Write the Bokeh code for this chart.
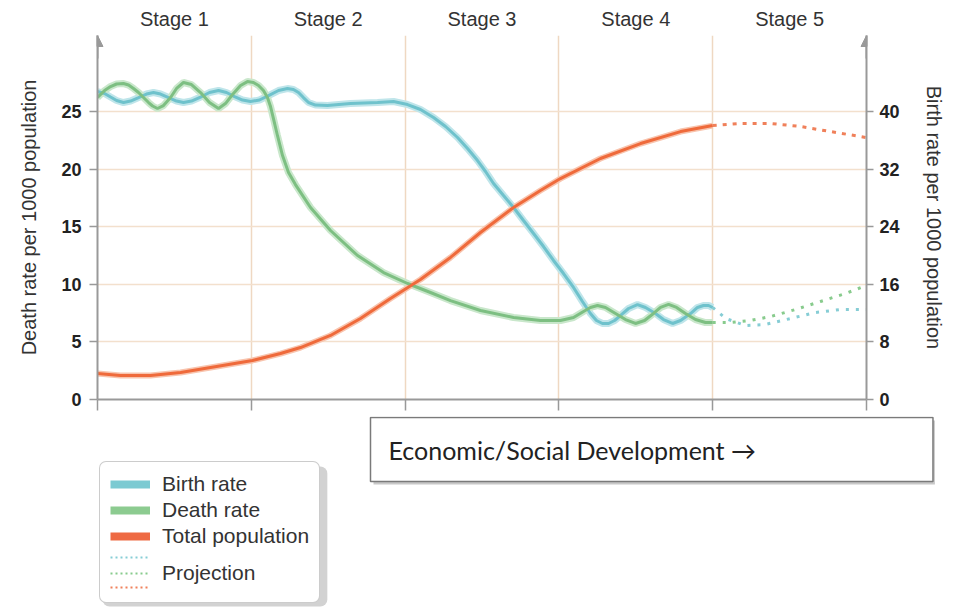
from bokeh.plotting import figure
from bokeh.layouts import column
from bokeh.models import (Range1d, LinearAxis, FixedTicker, Legend, LegendItem,
                          Label, Arrow, NormalHead)
from bokeh.embed import file_html
from bokeh.resources import INLINE

# ---------------- data ----------------
stage_positions = [0.5, 1.5, 2.5, 3.5, 4.5]
stage_labels = ["Stage 1", "Stage 2", "Stage 3", "Stage 4", "Stage 5"]
stage_bounds = [0, 1, 2, 3, 4, 5]
death_ticks = [0, 5, 10, 15, 20, 25]
birth_ticks = [0, 8, 16, 24, 32, 40]
legend_labels = ["Birth rate", "Death rate", "Total population", "Projection"]
dev_text = "Economic/Social Development \u2192"

# Birth rate per 1000 (right axis)
birth_x = [0.000, 0.046, 0.085, 0.124, 0.169, 0.215, 0.267, 0.319, 0.364, 0.410,
           0.462, 0.514, 0.559, 0.611, 0.670, 0.728, 0.787, 0.839, 0.891, 0.943,
           0.995, 1.053, 1.112, 1.177, 1.235, 1.274, 1.307, 1.339, 1.372, 1.417,
           1.495, 1.645, 1.821, 1.925, 2.016, 2.100, 2.185, 2.263, 2.341, 2.406,
           2.471, 2.523, 2.575, 2.640, 2.705, 2.770, 2.835, 2.900, 2.965, 3.030,
           3.095, 3.153, 3.205, 3.244, 3.283, 3.323, 3.362, 3.401, 3.453, 3.511,
           3.563, 3.628, 3.680, 3.739, 3.791, 3.856, 3.901, 3.940, 3.973, 4.000]
birth_rate = [42.78, 42.50, 42.01, 41.53, 41.25, 41.46, 41.94, 42.43, 42.64, 42.43,
              41.94, 41.46, 41.25, 41.46, 42.01, 42.64, 42.92, 42.64, 42.08, 41.60,
              41.39, 41.60, 42.22, 42.92, 43.19, 43.06, 42.64, 41.94, 41.25, 40.90,
              40.83, 41.11, 41.25, 41.39, 40.97, 40.28, 39.17, 37.92, 36.39, 34.86,
              33.19, 31.67, 30.00, 28.33, 26.67, 24.86, 23.06, 21.25, 19.31, 17.50,
              15.56, 13.61, 11.94, 10.97, 10.56, 10.56, 10.97, 11.67, 12.64, 13.19,
              12.78, 11.94, 11.11, 10.56, 10.97, 11.94, 12.78, 13.06, 13.06, 12.78]

# Death rate per 1000 (left axis)
death_x = [0.000, 0.046, 0.085, 0.124, 0.169, 0.202, 0.234, 0.267, 0.299, 0.332,
           0.358, 0.390, 0.429, 0.475, 0.514, 0.559, 0.611, 0.670, 0.728, 0.787,
           0.832, 0.878, 0.930, 0.975, 1.014, 1.047, 1.079, 1.105, 1.125, 1.144,
           1.170, 1.203, 1.242, 1.287, 1.385, 1.515, 1.691, 1.860, 2.016, 2.165,
           2.295, 2.490, 2.705, 2.880, 3.010, 3.095, 3.160, 3.205, 3.251, 3.303,
           3.368, 3.433, 3.498, 3.557, 3.615, 3.661, 3.713, 3.765, 3.823, 3.888,
           3.953, 4.000]
death_rate = [26.22, 26.82, 27.17, 27.39, 27.43, 27.30, 27.00, 26.65, 26.22, 25.78,
              25.48, 25.26, 25.52, 26.22, 27.00, 27.52, 27.34, 26.65, 25.78, 25.26,
              25.69, 26.48, 27.26, 27.60, 27.52, 27.26, 26.82, 26.22, 25.43, 24.39,
              22.92, 21.18, 19.70, 18.66, 16.67, 14.67, 12.50, 11.02, 10.07, 9.29,
              8.59, 7.73, 7.12, 6.86, 6.86, 7.12, 7.64, 7.99, 8.16, 7.99,
              7.47, 6.94, 6.60, 6.86, 7.47, 7.99, 8.25, 7.99, 7.47, 6.94,
              6.68, 6.68]

# Total population (drawn against the left scale)
pop_x = [0.000, 0.150, 0.345, 0.540, 0.735, 1.008, 1.190, 1.320, 1.515, 1.710,
         1.905, 2.100, 2.295, 2.490, 2.705, 2.880, 3.010, 3.270, 3.531, 3.791, 4.000]
total_population = [2.26, 2.08, 2.08, 2.34, 2.78, 3.39, 3.99, 4.51, 5.56, 7.03,
                    8.77, 10.42, 12.33, 14.50, 16.67, 18.14, 19.18, 20.92, 22.22, 23.26, 23.78]

# Projections (stage 5)
birth_proj_x = [4.000, 4.085, 4.213, 4.343, 4.506, 4.668, 4.831, 5.000]
birth_proj = [12.78, 11.25, 10.28, 10.42, 11.25, 12.08, 12.50, 12.50]
death_proj_x = [4.000, 4.117, 4.246, 4.376, 4.538, 4.701, 4.863, 5.000]
death_proj = [6.68, 6.68, 6.86, 7.20, 7.81, 8.51, 9.20, 9.90]
pop_proj_x = [4.000, 4.182, 4.376, 4.571, 4.766, 5.000]
pop_proj = [23.78, 23.96, 23.96, 23.70, 23.26, 22.74]

# ---------------- styling ----------------
FONT = "Liberation Sans"
AX = "#999999"
BLUE, BLUE_H = "#6fc2cc", "#bfe5ea"
GREEN, GREEN_H = "#7dbf82", "#c9e7cb"
ORANGE, ORANGE_H = "#ef6a3b", "#f8c4ae"
BLUE_D, GREEN_D, ORANGE_D = "#86cdd5", "#88cb8d", "#f0805a"
Y_TOP = 31.6
BIRTH_TOP = Y_TOP * 1.6
W = 950
H1 = 416
H2 = 607 - H1
NAN = float("nan")

p = figure(width=W, height=H1, output_backend="svg", toolbar_location=None,
           x_range=Range1d(0, 5), y_range=Range1d(0, Y_TOP),
           min_border_left=97, min_border_right=W - 866, min_border_top=35,
           min_border_bottom=H1 - 399)
p.extra_y_ranges = {"birth": Range1d(0, BIRTH_TOP)}
p.outline_line_color = None
p.background_fill_color = "white"
p.border_fill_color = "white"

# grid
p.xgrid.ticker = FixedTicker(ticks=stage_bounds[1:-1])
p.xgrid.grid_line_color = "#efd8c2"
p.xgrid.grid_line_width = 1.5
p.ygrid.ticker = FixedTicker(ticks=death_ticks[1:])
p.ygrid.grid_line_color = "#f3e0cd"
p.ygrid.grid_line_width = 1.5

# bottom axis
xa = p.xaxis[0]
xa.ticker = FixedTicker(ticks=stage_bounds)
xa.major_label_overrides = {b: "" for b in stage_bounds}
xa.major_label_text_font_size = "1px"
xa.major_label_standoff = 0
xa.major_tick_out = 11
xa.major_tick_in = 0
xa.minor_tick_line_color = None
xa.axis_line_color = AX
xa.axis_line_width = 2
xa.major_tick_line_color = AX
xa.major_tick_line_width = 1.5


def style_y(ax, label, standoff, tick_out, lab_standoff):
    ax.axis_label = label
    ax.axis_label_text_font = FONT
    ax.axis_label_text_font_size = "20px"
    ax.axis_label_text_font_style = "normal"
    ax.axis_label_text_color = "#333333"
    ax.axis_label_standoff = standoff
    ax.major_label_text_font = FONT
    ax.major_label_text_font_size = "18px"
    ax.major_label_text_font_style = "bold"
    ax.major_label_text_color = "#222222"
    ax.major_label_standoff = lab_standoff
    ax.major_tick_out = tick_out
    ax.major_tick_in = 0
    ax.minor_tick_line_color = None
    ax.axis_line_color = AX
    ax.axis_line_width = 2
    ax.major_tick_line_color = AX
    ax.major_tick_line_width = 1.5


ya = p.yaxis[0]
ya.ticker = FixedTicker(ticks=death_ticks)
style_y(ya, "Death rate per 1000 population", 18, 8, 8)

ra = LinearAxis(y_range_name="birth", ticker=FixedTicker(ticks=birth_ticks))
style_y(ra, "Birth rate per 1000 population", 20, 7, 6)
p.add_layout(ra, "right")

# stage labels on top
ta = LinearAxis(ticker=FixedTicker(ticks=stage_positions),
                major_label_overrides=dict(zip(stage_positions, stage_labels)))
ta.axis_line_color = None
ta.major_tick_line_color = None
ta.minor_tick_line_color = None
ta.major_tick_out = 0
ta.major_tick_in = 0
ta.major_label_standoff = 6
ta.major_label_text_font = FONT
ta.major_label_text_font_size = "20px"
ta.major_label_text_color = "#333333"
p.add_layout(ta, "above")

# axis arrows
for xa_pos in (stage_bounds[0], stage_bounds[-1]):
    p.add_layout(Arrow(end=NormalHead(size=11, fill_color=AX, line_color=AX),
                       x_start=xa_pos, y_start=Y_TOP - 2, x_end=xa_pos, y_end=Y_TOP,
                       line_color=AX, line_width=2))

# series (halo + core)
p.line(birth_x, birth_rate, y_range_name="birth", line_color=BLUE_H, line_width=7)
p.line(death_x, death_rate, line_color=GREEN_H, line_width=7)
p.line(pop_x, total_population, line_color=ORANGE_H, line_width=6)
p.line(birth_x, birth_rate, y_range_name="birth", line_color=BLUE, line_width=3)
p.line(death_x, death_rate, line_color=GREEN, line_width=3)
p.line(pop_x, total_population, line_color=ORANGE, line_width=3)

p.line(birth_proj_x, birth_proj, y_range_name="birth", line_color=BLUE_D,
       line_width=3, line_dash="3 7")
p.line(death_proj_x, death_proj, line_color=GREEN_D, line_width=3, line_dash="3 7")
p.line(pop_proj_x, pop_proj, line_color=ORANGE_D, line_width=3, line_dash="4 6")

# ---------------- lower panel: legend + development box ----------------
q = figure(width=W, height=H2, output_backend="svg", toolbar_location=None,
           x_range=Range1d(0, W), y_range=Range1d(0, H2), min_border=0,
           x_axis_type=None, y_axis_type=None)
q.outline_line_color = None
q.xgrid.visible = False
q.ygrid.visible = False
q.background_fill_color = "white"
q.border_fill_color = "white"
for fig in (p, q):
    if "frame_align" in fig.properties():
        fig.frame_align = False

HAS_RADIUS = "border_radius" in Label.properties()

# shadows (boxes only, no visible text)
leg_shadow = Label(x=102, y=1, x_units="screen", y_units="screen", text=" ",
                   text_font=FONT, text_font_size="21px", text_align="left",
                   text_baseline="bottom", background_fill_color="#d2d2d2",
                   padding=dict(left=0, right=219, top=117, bottom=0))
dev_shadow = Label(x=373, y=607 - 452, x_units="screen", y_units="screen", text=" ",
                   text_font="Lato", text_font_size="25px", text_align="left",
                   text_baseline="middle", background_fill_color="#c8c8c8",
                   padding=dict(left=0, right=555, top=17, bottom=17))
if HAS_RADIUS:
    leg_shadow.border_radius = 7
q.add_layout(leg_shadow)
q.add_layout(dev_shadow)

q.add_layout(Label(x=370, y=607 - 449, x_units="screen", y_units="screen",
                   text=dev_text, text_font="Lato", text_font_size="25px",
                   text_color="#222222", text_align="left", text_baseline="middle",
                   background_fill_color="white", border_line_color="#7a7a7a",
                   border_line_width=1.5,
                   padding=dict(left=18, right=177, top=17, bottom=17)))

# legend-only swatch renderers (no visible marks)
leg_b = q.line(x=[NAN], y=[NAN], line_color="#7ccad2", line_width=8)
leg_d = q.line(x=[NAN], y=[NAN], line_color="#8ccb90", line_width=8)
leg_p = q.line(x=[NAN], y=[NAN], line_color="#ee6a43", line_width=8)
leg_blank = q.line(x=[NAN], y=[NAN], line_alpha=0)
leg_bp = q.line(x=[NAN], y=[NAN], line_color=BLUE_D, line_width=2, line_dash="2 3")
leg_dp = q.line(x=[NAN], y=[NAN], line_color=GREEN_D, line_width=2, line_dash="2 3")
leg_pp = q.line(x=[NAN], y=[NAN], line_color=ORANGE_D, line_width=2, line_dash="2 3")

legend_a = Legend(items=[LegendItem(label=legend_labels[0], renderers=[leg_b]),
                         LegendItem(label=legend_labels[1], renderers=[leg_d]),
                         LegendItem(label=legend_labels[2], renderers=[leg_p]),
                         LegendItem(label=" ", renderers=[leg_blank]),
                         LegendItem(label=" ", renderers=[leg_blank])],
                  location=(99, 607 - 603), glyph_width=40, glyph_height=20,
                  label_height=20, spacing=2, padding=10, margin=0, label_standoff=12,
                  label_text_font=FONT, label_text_font_size="21px",
                  label_text_color="#333333", border_line_color="#9a9a9a",
                  border_line_width=1.5, background_fill_color="white",
                  background_fill_alpha=1.0)
if "border_radius" in Legend.properties():
    legend_a.border_radius = 7
q.add_layout(legend_a)

# projection swatches (blue and orange, no text)
legend_b1 = Legend(items=[LegendItem(label=" ", renderers=[leg_bp]),
                          LegendItem(label=" ", renderers=[leg_pp])],
                   location=(110, 607 - 592), glyph_width=40, glyph_height=10,
                   label_height=10, spacing=20, padding=0, margin=0, label_standoff=0,
                   label_text_font_size="1px", border_line_color=None,
                   background_fill_alpha=0.0)
q.add_layout(legend_b1)

# projection entry (green swatch + text)
legend_b2 = Legend(items=[LegendItem(label=legend_labels[3], renderers=[leg_dp])],
                   location=(110, 607 - 585), glyph_width=40, glyph_height=10,
                   label_height=10, spacing=0, padding=0, margin=0, label_standoff=12,
                   label_text_font=FONT, label_text_font_size="21px",
                   label_text_color="#333333", border_line_color=None,
                   background_fill_alpha=0.0)
q.add_layout(legend_b2)

open("out.html", "w").write(file_html(column(p, q), INLINE))
